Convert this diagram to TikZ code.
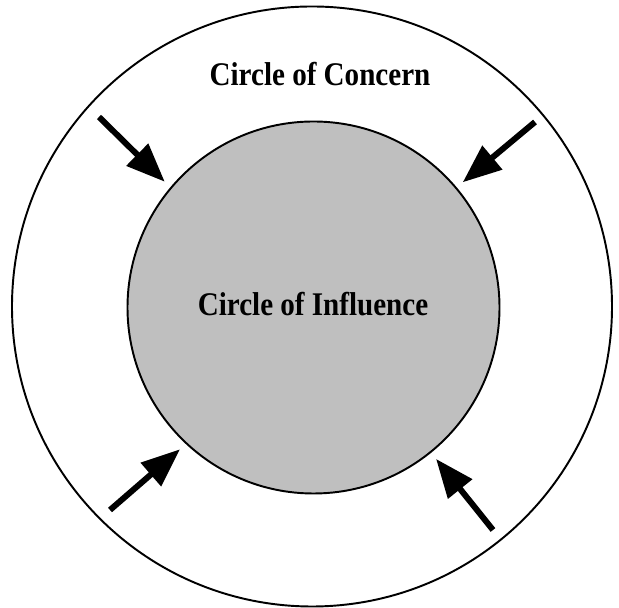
\documentclass[tikz,border=0pt]{standalone}
\usepackage{fontspec}
\setmainfont{Liberation Serif}
\newfontfamily\condfont[FakeStretch=0.88]{Liberation Serif}
\usetikzlibrary{arrows.meta}

\begin{document}
\begin{tikzpicture}
\tikzset{ >={Triangle[length=22pt,width=17pt]}, inner sep=0pt, outer sep=0pt,
  ring/.style={draw, circle, line width=1.1pt},
  push/.style={->, line width=3.4pt, shorten >=5pt},
  lbl/.style={font=\condfont\bfseries\fontsize{18.8}{20}\selectfont},
}

\useasboundingbox (0,0) rectangle (12.38,12.16);

%\draw [lightgray, dashed](0,0) grid (12,12);

\node [ring, minimum size=12.0cm] (concern) at (6.24,6.03) {};
\node [ring, fill=black!25, minimum size=7.44cm] (influence) at (6.27,6.01) {};

\node [lbl] (concernlbl) at (6.40,10.68) {Circle of Concern};
\node [lbl] (influencelbl) at (6.26,6.07) {Circle of Influence};

\coordinate (tl) at (1.98,9.82);
\coordinate (tr) at (10.70,9.72);
\coordinate (bl) at (2.20,1.96);
\coordinate (br) at (9.86,1.56);

\draw [push] (tl) -- (influence.140);
\draw [push] (tr) -- (influence.40);
\draw [push] (bl) -- (influence.227);
\draw [push] (br) -- (influence.309);

\end{tikzpicture}
\end{document}
